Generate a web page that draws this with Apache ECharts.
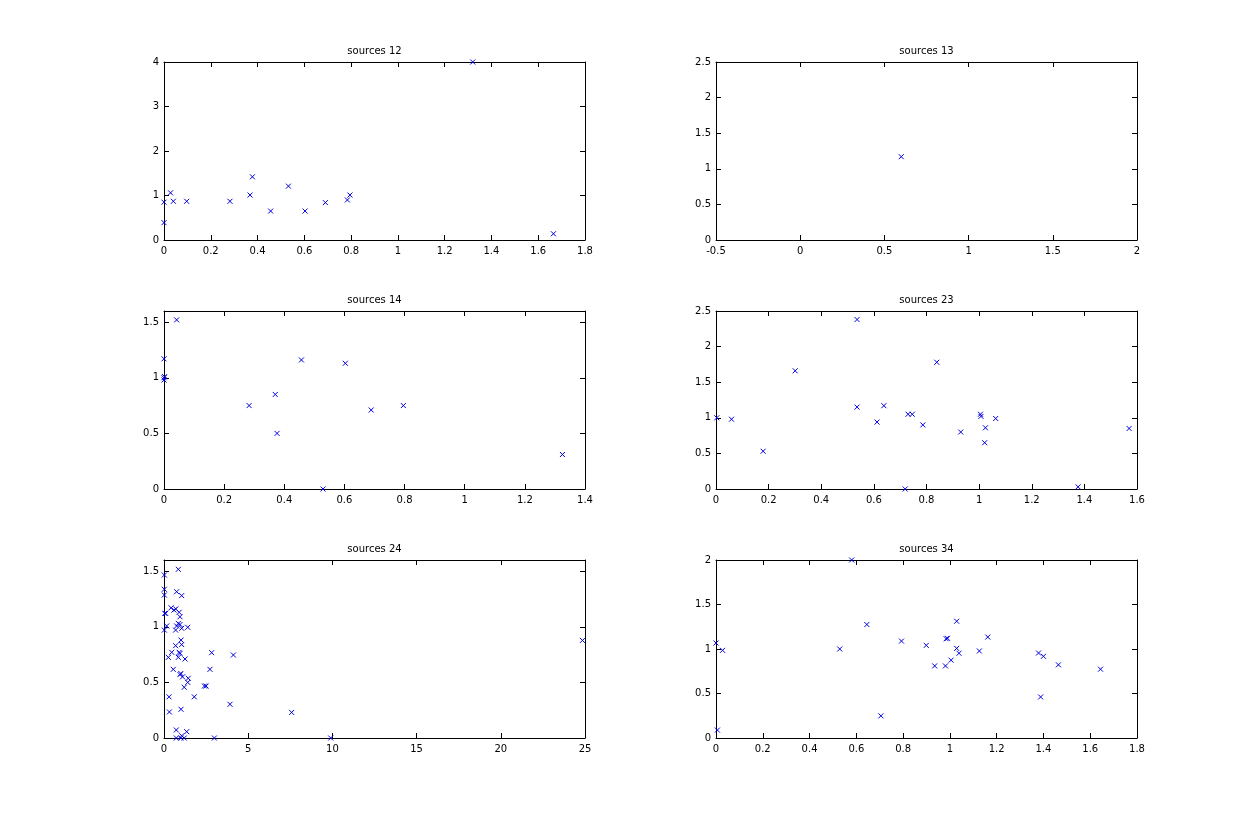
<!DOCTYPE html>
<html>
<head>
<meta charset="utf-8">
<script src="https://cdn.jsdelivr.net/npm/echarts@6/dist/echarts.min.js"></script>
<style>
  html, body { margin: 0; padding: 0; background: #fff; }
  #chart { width: 1258px; height: 829px; }
</style>
</head>
<body>
<div id="chart"></div>
<script>
// [x, y] points
const src12 = [
  [0, 0.39], [0, 0.85], [0.028, 1.06], [0.04, 0.87], [0.097, 0.87], [0.282, 0.87],
  [0.368, 1.01], [0.378, 1.42], [0.456, 0.65], [0.532, 1.21], [0.603, 0.65],
  [0.69, 0.84], [0.784, 0.9], [0.795, 1.01], [1.32, 4.0], [1.665, 0.14]
]
const src13 = [[0.6, 1.17]]
const src14 = [
  [0.042, 1.52], [0, 1.17], [0, 1.0], [0.002, 1.01], [0, 0.98], [0.283, 0.75],
  [0.37, 0.85], [0.376, 0.5], [0.457, 1.16], [0.529, 0], [0.603, 1.13],
  [0.689, 0.71], [0.796, 0.75], [1.325, 0.31]
]
const src23 = [
  [0.003, 1.0], [0.059, 0.98], [0.179, 0.53], [0.301, 1.66], [0.536, 2.38],
  [0.536, 1.15], [0.612, 0.94], [0.638, 1.17], [0.719, 0], [0.73, 1.05],
  [0.746, 1.05], [0.786, 0.9], [0.839, 1.78], [0.93, 0.8], [1.005, 1.05],
  [1.007, 1.02], [1.021, 0.65], [1.024, 0.86], [1.063, 0.99], [1.376, 0.03],
  [1.57, 0.85]
]
const src24 = [
  [0.02, 1.465], [0.02, 1.337], [0.02, 1.285], [0.05, 1.12], [0.1, 1.12],
  [0.16, 1.007], [0.02, 0.97], [0.85, 1.516], [0.75, 1.315], [1.05, 1.28],
  [0.42, 1.17], [0.59, 1.15], [0.7, 1.16], [0.9, 1.13], [0.95, 1.09],
  [0.85, 1.03], [0.95, 1.02], [0.75, 1.007], [0.69, 0.97], [1.05, 0.986],
  [1.41, 0.995], [1.01, 0.88], [1.05, 0.84], [0.69, 0.83], [0.46, 0.77],
  [0.26, 0.725], [0.95, 0.76], [0.9, 0.77], [0.85, 0.725], [1.25, 0.71],
  [2.83, 0.767], [4.12, 0.746], [0.55, 0.617], [2.73, 0.617], [0.95, 0.57],
  [1.0, 0.58], [1.1, 0.55], [1.44, 0.537], [1.41, 0.5], [1.2, 0.456],
  [2.4, 0.467], [2.5, 0.467], [0.3, 0.37], [1.8, 0.37], [3.92, 0.303],
  [0.32, 0.234], [1.01, 0.258], [0.73, 0.072], [1.35, 0.057], [0.73, 0],
  [1.0, 0], [1.05, 0.02], [1.2, 0], [2.99, 0], [7.58, 0.23], [9.9, 0],
  [24.85, 0.877]
]
const src34 = [
  [0, 1.067], [0.006, 0.089], [0.028, 0.985], [0.529, 1.0], [0.58, 2.0],
  [0.645, 1.275], [0.705, 0.249], [0.793, 1.089], [0.899, 1.041], [0.935, 0.81],
  [0.981, 0.81], [0.984, 1.115], [0.99, 1.12], [1.005, 0.874], [1.029, 1.312],
  [1.029, 1.007], [1.039, 0.952], [1.126, 0.978], [1.162, 1.134], [1.379, 0.955],
  [1.4, 0.918], [1.388, 0.461], [1.464, 0.822], [1.644, 0.773]
]

const titles = ['sources 12', 'sources 13', 'sources 14', 'sources 23', 'sources 24', 'sources 34']
const datasets = [src12, src13, src14, src23, src24, src34]
// axis ranges [min, max, interval]
const xRanges = [[0, 1.8, 0.2], [-0.5, 2, 0.5], [0, 1.4, 0.2], [0, 1.6, 0.2], [0, 25, 5], [0, 1.8, 0.2]]
const yRanges = [[0, 4, 1], [0, 2.5, 0.5], [0, 1.6, 0.5], [0, 2.5, 0.5], [0, 1.6, 0.5], [0, 2, 0.5]]

const lefts = [164, 716]
const tops = [62, 311, 560]
const W = 421, H = 178
const font = 'DejaVu Sans, sans-serif'

const myChart = echarts.init(document.getElementById('chart'))

let grid = [], xAxis = [], yAxis = [], series = [], title = []
const tick = { show: true, inside: true, length: 5, lineStyle: { color: '#000' } }
const line = { show: true, onZero: false, lineStyle: { color: '#000', width: 1 } }

for (let i = 0; i < 6; i++) {
  const left = lefts[i % 2], top = tops[Math.floor(i / 2)]
  grid.push({ left: left, top: top, width: W, height: H, containLabel: false })
  title.push({
    text: titles[i], left: left + W / 2, top: top - 16, textAlign: 'center', padding: 0,
    textStyle: { fontSize: 10, fontWeight: 'normal', color: '#000', fontFamily: font }
  })
  const xr = xRanges[i], yr = yRanges[i]
  xAxis.push({
    type: 'value', gridIndex: i, position: 'bottom', min: xr[0], max: xr[1], interval: xr[2],
    axisLine: line, axisTick: tick, splitLine: { show: false },
    axisLabel: { color: '#000', fontSize: 10, fontFamily: font, margin: 6 }
  })
  xAxis.push({
    type: 'value', gridIndex: i, position: 'top', min: xr[0], max: xr[1], interval: xr[2],
    axisLine: line, axisTick: tick, splitLine: { show: false }, axisLabel: { show: false }
  })
  yAxis.push({
    type: 'value', gridIndex: i, position: 'left', min: yr[0], max: yr[1], interval: yr[2],
    axisLine: line, axisTick: tick, splitLine: { show: false },
    axisLabel: { color: '#000', fontSize: 10, fontFamily: font, margin: 5, showMaxLabel: yr[1] % yr[2] === 0 }
  })
  yAxis.push({
    type: 'value', gridIndex: i, position: 'right', min: yr[0], max: yr[1], interval: yr[2],
    axisLine: line, axisTick: tick, splitLine: { show: false }, axisLabel: { show: false }
  })
  series.push({
    type: 'scatter', xAxisIndex: 2 * i, yAxisIndex: 2 * i,
    symbol: 'path://M0,0L10,10M10,0L0,10', symbolSize: 5,
    itemStyle: { color: 'none', borderColor: '#0000dd', borderWidth: 1, opacity: 1 },
    emphasis: { disabled: true },
    clip: false,
    data: datasets[i]
  })
}

myChart.setOption({
  backgroundColor: '#fff',
  animation: false,
  title: title,
  grid: grid,
  xAxis: xAxis,
  yAxis: yAxis,
  series: series
})
</script>
</body>
</html>
